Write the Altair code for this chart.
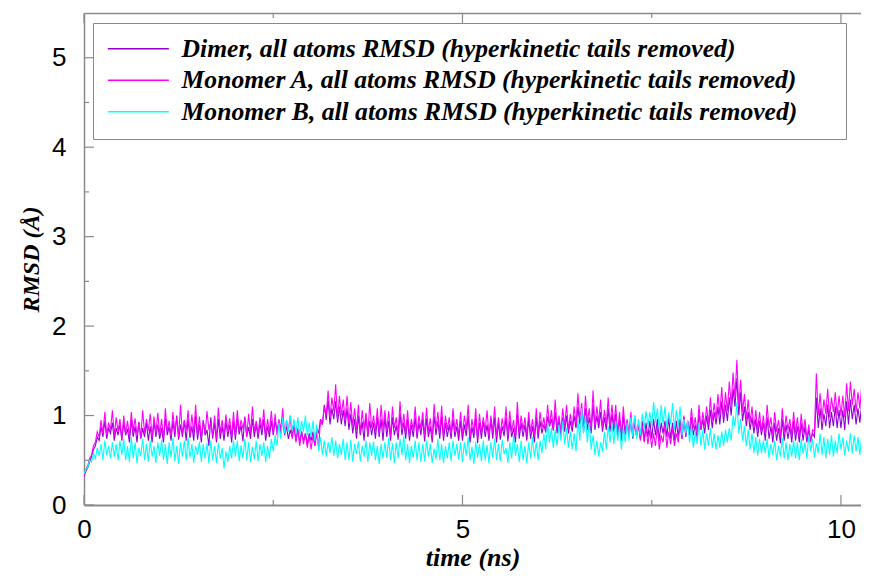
import altair as alt
import pandas as pd

# ---------------- data ----------------
# RMSD values in hundredths of an angstrom, one value every 0.025 ns (t = 0 .. 10.3 ns)
time_step_ns = 0.025

series_names = [
    "Dimer, all atoms RMSD (hyperkinetic tails removed)",
    "Monomer A, all atoms RMSD (hyperkinetic tails removed)",
    "Monomer B, all atoms RMSD (hyperkinetic tails removed)",
]
series_colors = ["#9400d3", "#ff00ff", "#00ffff"]

dimer_centi = [
    33, 38, 42, 48, 54, 62, 66, 76, 72, 88, 76, 94, 74, 86, 80, 92, 72, 86, 78, 90,
    72, 92, 78, 85, 70, 95, 76, 88, 70, 93, 74, 86, 76, 92, 72, 88, 70, 94, 76, 90,
    74, 86, 70, 97, 78, 88, 72, 94, 76, 100, 73, 90, 76, 94, 72, 96, 75, 88, 72, 100,
    73, 90, 70, 95, 78, 84, 66, 98, 74, 92, 70, 96, 74, 88, 72, 94, 76, 90, 70, 94,
    73, 96, 79, 89, 71, 99, 77, 87, 74, 96, 76, 90, 74, 92, 78, 96, 72, 88, 76, 94,
    78, 94, 84, 92, 80, 98, 78, 88, 74, 84, 76, 88, 72, 84, 70, 82, 72, 80, 68, 80,
    72, 82, 66, 86, 80, 96, 90, 112, 95, 118, 90, 108, 96, 116, 92, 110, 90, 106, 88, 108,
    84, 102, 80, 96, 74, 100, 78, 93, 72, 101, 76, 94, 78, 92, 74, 98, 76, 96, 72, 98,
    76, 94, 72, 98, 78, 89, 73, 103, 78, 92, 74, 96, 72, 90, 76, 98, 74, 92, 78, 96,
    71, 97, 76, 88, 70, 100, 78, 94, 74, 99, 72, 92, 76, 90, 74, 96, 76, 88, 72, 94,
    72, 90, 77, 100, 70, 87, 75, 97, 69, 92, 74, 94, 76, 90, 72, 96, 74, 98, 70, 92,
    73, 88, 77, 98, 71, 94, 76, 86, 70, 102, 74, 92, 76, 90, 72, 96, 74, 88, 70, 98,
    74, 94, 80, 90, 81, 99, 88, 96, 83, 104, 80, 94, 78, 98, 82, 100, 80, 94, 82, 100,
    86, 110, 90, 102, 82, 108, 84, 98, 80, 112, 84, 100, 86, 104, 82, 98, 84, 108, 82, 102,
    82, 102, 76, 95, 72, 100, 78, 92, 76, 96, 74, 92, 76, 90, 74, 94, 72, 92, 76, 94,
    74, 96, 78, 96, 72, 92, 80, 94, 76, 98, 74, 92, 72, 94, 76, 96, 74, 98, 76, 94,
    78, 98, 78, 90, 74, 102, 84, 96, 80, 100, 84, 106, 86, 104, 90, 110, 90, 116, 92, 112,
    94, 120, 100, 130, 110, 142, 100, 126, 94, 110, 88, 104, 84, 98, 80, 96, 76, 94, 78, 92,
    72, 98, 74, 88, 70, 92, 72, 86, 69, 96, 72, 90, 74, 88, 70, 94, 72, 88, 70, 92,
    72, 88, 70, 84, 72, 80, 76, 120, 86, 108, 84, 102, 88, 112, 86, 104, 88, 110, 86, 106,
    86, 106, 84, 116, 90, 118, 96, 112, 90, 108, 92, 114, 96,
]

monomer_a_centi = [
    32, 40, 44, 52, 56, 66, 70, 82, 76, 95, 80, 104, 78, 92, 84, 106, 77, 98, 82, 96,
    74, 100, 80, 94, 76, 104, 82, 97, 78, 92, 75, 106, 80, 96, 83, 102, 75, 99, 80, 103,
    79, 96, 74, 108, 82, 94, 77, 104, 81, 98, 76, 112, 79, 95, 83, 106, 78, 101, 80, 112,
    78, 99, 75, 94, 80, 105, 84, 92, 77, 100, 73, 109, 80, 95, 78, 101, 82, 97, 76, 104,
    77, 106, 82, 95, 85, 97, 76, 102, 80, 110, 82, 94, 79, 98, 84, 107, 77, 96, 81, 105,
    80, 102, 78, 96, 84, 108, 79, 94, 83, 100, 74, 90, 70, 86, 66, 82, 68, 80, 64, 78,
    62, 78, 66, 80, 64, 96, 90, 110, 100, 128, 98, 120, 105, 135, 96, 122, 100, 118, 94, 122,
    92, 115, 88, 108, 84, 112, 80, 106, 85, 103, 78, 114, 86, 100, 82, 108, 80, 112, 84, 106,
    83, 105, 76, 110, 86, 98, 79, 116, 84, 102, 80, 106, 77, 96, 83, 110, 79, 100, 85, 104,
    77, 109, 82, 97, 75, 113, 85, 104, 80, 111, 76, 100, 84, 98, 79, 108, 82, 96, 78, 104,
    78, 100, 84, 112, 76, 96, 81, 108, 74, 102, 80, 98, 83, 106, 77, 100, 81, 110, 76, 98,
    79, 97, 83, 110, 77, 105, 82, 95, 76, 115, 80, 100, 84, 98, 78, 104, 81, 96, 77, 108,
    80, 104, 86, 98, 82, 112, 88, 106, 84, 118, 86, 100, 82, 108, 88, 112, 84, 102, 86, 110,
    90, 125, 95, 114, 86, 122, 92, 108, 85, 128, 88, 110, 92, 118, 86, 106, 90, 120, 88, 112,
    88, 112, 80, 104, 78, 110, 82, 96, 80, 104, 76, 100, 78, 92, 72, 88, 70, 86, 68, 84,
    64, 80, 66, 88, 62, 78, 70, 90, 64, 82, 68, 86, 66, 80, 70, 90, 74, 100, 78, 94,
    82, 108, 86, 98, 80, 112, 84, 104, 88, 110, 90, 120, 94, 114, 96, 124, 100, 132, 98, 126,
    105, 138, 112, 148, 120, 162, 110, 140, 104, 124, 96, 118, 92, 110, 86, 106, 84, 104, 82, 100,
    80, 112, 86, 98, 78, 104, 82, 95, 76, 108, 80, 100, 84, 96, 78, 104, 80, 98, 76, 102,
    80, 96, 74, 90, 70, 84, 82, 147, 100, 125, 96, 118, 102, 130, 98, 120, 104, 126, 100, 122,
    100, 122, 98, 136, 105, 138, 112, 130, 104, 126, 108, 134, 112,
]

monomer_b_centi = [
    35, 40, 42, 50, 48, 58, 52, 64, 55, 68, 50, 72, 56, 66, 52, 70, 54, 68, 50, 72,
    56, 74, 50, 66, 48, 76, 52, 70, 47, 64, 55, 74, 50, 68, 48, 72, 54, 66, 47, 70,
    55, 73, 50, 68, 46, 70, 53, 75, 49, 66, 46, 70, 54, 72, 50, 75, 53, 68, 47, 66,
    56, 71, 48, 68, 52, 69, 47, 72, 50, 66, 47, 69, 52, 64, 41, 60, 48, 66, 52, 72,
    54, 72, 49, 67, 52, 74, 50, 70, 48, 65, 51, 72, 49, 68, 55, 70, 48, 66, 52, 74,
    60, 78, 66, 92, 74, 98, 80, 95, 82, 100, 84, 96, 80, 98, 78, 94, 82, 100, 78, 92,
    76, 94, 72, 90, 60, 76, 56, 72, 54, 70, 58, 76, 55, 72, 52, 68, 56, 74, 50, 70,
    50, 73, 48, 68, 57, 71, 49, 66, 54, 72, 48, 70, 55, 71, 50, 66, 46, 68, 52, 70,
    53, 75, 50, 69, 47, 70, 52, 74, 56, 77, 50, 68, 47, 66, 53, 72, 50, 70, 48, 68,
    49, 72, 54, 68, 47, 63, 51, 74, 50, 68, 47, 66, 52, 70, 49, 72, 55, 68, 51, 70,
    48, 70, 55, 76, 50, 65, 46, 71, 53, 68, 49, 72, 50, 67, 47, 70, 53, 74, 50, 68,
    49, 73, 57, 64, 47, 70, 52, 78, 55, 68, 48, 72, 50, 66, 47, 70, 52, 76, 54, 70,
    50, 72, 58, 80, 62, 92, 70, 86, 64, 84, 66, 90, 72, 94, 68, 86, 64, 82, 62, 80,
    60, 95, 72, 108, 80, 100, 70, 92, 62, 78, 56, 72, 54, 70, 60, 82, 62, 88, 70, 92,
    68, 94, 72, 88, 62, 86, 70, 92, 72, 98, 76, 100, 74, 96, 78, 102, 85, 105, 88, 104,
    88, 115, 92, 108, 84, 112, 90, 110, 86, 104, 90, 114, 84, 106, 88, 110, 78, 96, 80, 94,
    70, 88, 64, 82, 68, 92, 66, 84, 62, 80, 66, 86, 64, 80, 62, 78, 64, 82, 66, 84,
    70, 86, 72, 100, 88, 115, 80, 96, 72, 88, 66, 84, 62, 80, 58, 76, 55, 74, 58, 72,
    58, 74, 52, 68, 56, 72, 50, 66, 54, 75, 52, 70, 50, 68, 54, 72, 52, 70, 50, 74,
    57, 70, 52, 78, 60, 74, 53, 69, 58, 80, 56, 76, 52, 74, 56, 78, 54, 72, 58, 80,
    62, 76, 55, 72, 60, 80, 58, 78, 60, 76, 56, 78, 62,
]

y_major_ticks = [0, 1, 2, 3, 4, 5]
y_minor_ticks = [0.5, 1.5, 2.5, 3.5, 4.5]
x_major_ticks = [0, 5, 10]
x_minor_ticks = [2.5, 7.5]

x_domain = [0, 10.265]
y_domain = [0, 5.5]

# ---------------- build tables ----------------
rows = []
for name, vals in zip(series_names, [dimer_centi, monomer_a_centi, monomer_b_centi]):
    for i, v in enumerate(vals):
        rows.append({"time": round(i * time_step_ns, 4), "rmsd": v / 100.0, "series": name})
df = pd.DataFrame(rows)

W, H = 777, 492
AX = "#8a8a8a"
SERIF = "Liberation Serif"
SANS = "Liberation Sans"

xs = alt.Scale(domain=x_domain, nice=False, zero=False)
ys = alt.Scale(domain=y_domain, nice=False)

color = alt.Color(
    "series:N",
    scale=alt.Scale(domain=series_names, range=series_colors),
    legend=alt.Legend(
        title="MM",
        titleOrient="right",
        titleOpacity=0,
        titleFontSize=20,
        titlePadding=2,
        orient="none",
        legendX=9,
        legendY=10,
        padding=13,
        strokeColor=AX,
        fillColor="white",
        symbolType="M-1.8,0H8.2",
        symbolSize=149,
        symbolStrokeWidth=1.5,
        labelFont=SERIF,
        labelFontStyle="italic",
        labelFontWeight="bold",
        labelFontSize=25.6,
        labelColor="black",
        labelLimit=1000,
        labelOffset=50,
        rowPadding=4.5,
    ),
)

x_axis_bottom = alt.Axis(
    orient="bottom",
    values=x_major_ticks,
    ticks=False,
    grid=False,
    domainColor=AX,
    domainWidth=2,
    labelFont=SANS,
    labelFontSize=26,
    labelColor="black",
    labelPadding=11,
    labelFlush=False,
    title="time (ns)",
    titleFont=SERIF,
    titleFontStyle="italic",
    titleFontWeight="bold",
    titleFontSize=26,
    titleColor="black",
    titleBaseline="alphabetic",
    titleY=60,
)

y_axis_left = alt.Axis(
    orient="left",
    values=y_major_ticks,
    ticks=False,
    grid=False,
    domainColor=AX,
    domainWidth=1.5,
    labelFont=SANS,
    labelFontSize=26,
    labelColor="black",
    labelPadding=18,
    labelFlush=False,
    title="RMSD (Å)",
    titleFont=SERIF,
    titleFontStyle="italic",
    titleFontWeight="bold",
    titleFontSize=24,
    titleColor="black",
    titlePadding=8,
)

base = alt.Chart(df)
lines = []
for k, name in enumerate(series_names):
    lines.append(
        base.transform_filter(alt.datum.series == name)
        .mark_line(strokeWidth=1.1, clip=True)
        .encode(
            x=alt.X("time:Q", scale=xs, axis=x_axis_bottom if k == 0 else None),
            y=alt.Y("rmsd:Q", scale=ys, axis=y_axis_left if k == 0 else None),
            color=color,
        )
    )

# inward tick marks
ymaj = pd.DataFrame({"v": y_major_ticks})
ymin = pd.DataFrame({"v": y_minor_ticks})
xmaj = pd.DataFrame({"v": x_major_ticks})
xmin = pd.DataFrame({"v": x_minor_ticks})

tick_style = dict(color=AX, strokeWidth=1.2)

left_major = alt.Chart(ymaj).mark_rule(**tick_style).encode(
    y=alt.Y("v:Q", scale=ys, axis=None), x=alt.value(0), x2=alt.value(10))
left_minor = alt.Chart(ymin).mark_rule(**tick_style).encode(
    y=alt.Y("v:Q", scale=ys, axis=None), x=alt.value(0), x2=alt.value(5))
bottom_major = alt.Chart(xmaj).mark_rule(**tick_style).encode(
    x=alt.X("v:Q", scale=xs, axis=None), y=alt.value(H), y2=alt.value(H - 10))
bottom_minor = alt.Chart(xmin).mark_rule(**tick_style).encode(
    x=alt.X("v:Q", scale=xs, axis=None), y=alt.value(H), y2=alt.value(H - 5))
top_major = alt.Chart(xmaj).mark_rule(**tick_style).encode(
    x=alt.X("v:Q", scale=xs, axis=None), y=alt.value(0), y2=alt.value(10))
top_minor = alt.Chart(xmin).mark_rule(**tick_style).encode(
    x=alt.X("v:Q", scale=xs,
            axis=alt.Axis(orient="top", labels=False, ticks=False, grid=False,
                          domainColor=AX, domainWidth=1.5, title=None)),
    y=alt.value(0), y2=alt.value(5))

chart = (
    alt.layer(*lines, left_major, left_minor, bottom_major, bottom_minor, top_major, top_minor)
    .resolve_axis(x="independent", y="independent")
    .properties(
        width=W,
        height=H,
        autosize=alt.AutoSizeParams(type="none"),
        padding={"left": 76, "top": 5, "right": 0, "bottom": 66},
        background="white",
    )
    .configure_view(strokeWidth=0)
)

chart.save("out.html", embed_options={"renderer": "svg", "actions": False})
